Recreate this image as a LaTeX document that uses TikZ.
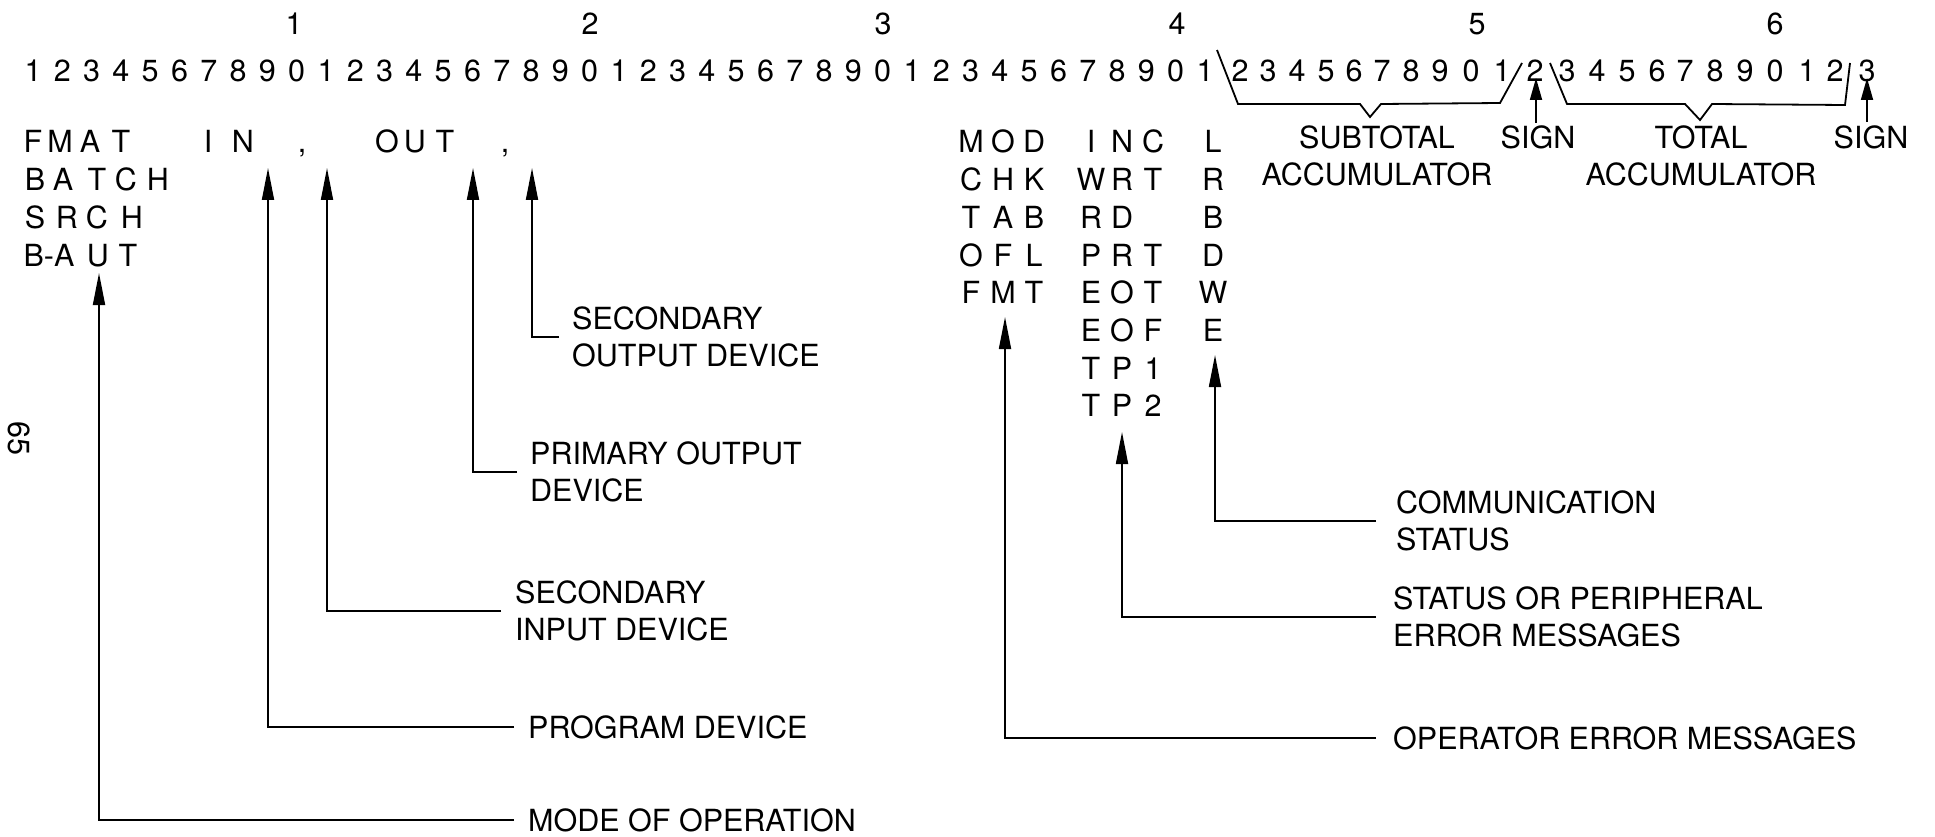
\documentclass[tikz,border=0pt]{standalone}
\usepackage{fontspec}
\setmainfont{TeX Gyre Heros}
\usetikzlibrary{arrows.meta}
\newcommand\ltr[4]{\node[txt] (#1) at (#2,{153+37.7*(#3-1)}) {#4};}
\begin{document}
\begin{tikzpicture}[x=1pt,y=-1pt,
  txt/.style={font=\fontsize{30.5}{37}\selectfont, inner sep=0pt, anchor=base},
  lbl/.style={font=\fontsize{30.5}{37}\selectfont, inner sep=0pt, anchor=west, align=left},
  lblc/.style={font=\fontsize{30.5}{37}\selectfont, inner sep=0pt, align=center},
  conn/.style={line width=1.8pt, line join=miter},
  arr/.style={line width=1.8pt, -{Triangle[length=32pt,width=12pt]}},
  sarr/.style={line width=1.8pt, -{Triangle[length=22pt,width=12pt]}}]
\useasboundingbox (0,0) rectangle (1935,837);
% ruler: tens
\foreach \t/\x in {1/294,2/590,3/883,4/1177,5/1477,6/1775}
  \node[txt] (ten\t) at (\x,35) {\t};
% ruler: units 1..41
\foreach \n in {1,...,41}{
  \pgfmathtruncatemacro\d{mod(\n,10)}
  \node[txt] (u\n) at ({33+(\n-1)*29.3},82) {\d};
}
\foreach \n/\x in {42/1240,43/1268,44/1297,45/1326,46/1354,47/1382,48/1411,49/1440,50/1471,51/1502,
  52/1535,53/1567,54/1597,55/1627,56/1657,57/1685,58/1715,59/1745,60/1775,61/1807,62/1835,63/1867}{
  \pgfmathtruncatemacro\d{mod(\n,10)}
  \node[txt] (u\n) at (\x,82) {\d};
}
% left block
\ltr{a1}{33}{1}{F}\ltr{a2}{60}{1}{M}\ltr{a3}{90}{1}{A}\ltr{a4}{121}{1}{T}
\ltr{a5}{208}{1}{I}\ltr{a6}{243}{1}{N}\ltr{a7}{302}{1}{,}
\ltr{a8}{387}{1}{O}\ltr{a9}{415}{1}{U}\ltr{a10}{445}{1}{T}\ltr{a11}{505}{1}{,}
\ltr{b1}{35}{2}{B}\ltr{b2}{63}{2}{A}\ltr{b3}{97}{2}{T}\ltr{b4}{126}{2}{C}\ltr{b5}{158}{2}{H}
\ltr{c1}{35}{3}{S}\ltr{c2}{67}{3}{R}\ltr{c3}{97}{3}{C}\ltr{c4}{132}{3}{H}
\ltr{d1}{49}{4}{B-A}\ltr{d2}{98}{4}{U}\ltr{d3}{128}{4}{T}
% middle block
\foreach \r/\p/\q/\s in {1/M/O/D,2/C/H/K,3/T/A/B,4/O/F/L,5/F/M/T}{
  \ltr{m\r a}{971}{\r}{\p}\ltr{m\r b}{1003}{\r}{\q}\ltr{m\r c}{1034}{\r}{\s}}
\foreach \r/\p/\q/\s in {1/I/N/C,2/W/R/T,3/R/D/{},4/P/R/T,5/E/O/T,6/E/O/F,7/T/P/1,8/T/P/2}{
  \ltr{n\r a}{1091}{\r}{\p}\ltr{n\r b}{1122}{\r}{\q}\ltr{n\r c}{1153}{\r}{\s}}
\foreach \r/\p in {1/L,2/R,3/B,4/D,5/W,6/E}{
  \ltr{l\r}{1213}{\r}{\p}}
% accumulator labels
\node[lblc] (sub) at (1377,155.5) {SUBTOTAL\\ACCUMULATOR};
\node[lblc] (tot) at (1701,155.5) {TOTAL\\ACCUMULATOR};
\node[lblc] (sg1) at (1538,137) {SIGN};
\node[lblc] (sg2) at (1871,137) {SIGN};
% brackets
\draw[conn] (1217,50) -- (1238,104) -- (1360,104) -- (1370,117) -- (1381,104) -- (1500,103) -- (1522,63);
\draw[conn] (1550,63) -- (1567,104) -- (1685,104) -- (1700,120) -- (1712,104) -- (1845,105) -- (1850,63);
\coordinate (s1t) at (1536,78);
\coordinate (s2t) at (1867,78);
\draw[sarr] (1536,123) -- (s1t);
\draw[sarr] (1867,122) -- (s2t);
% page number
\node[txt, anchor=center, rotate=-90] (pg) at (19,438) {65};
% labels
\node[lbl] (lmode) at (528,820) {MODE OF OPERATION};
\node[lbl] (lprog) at (528,727) {PROGRAM DEVICE};
\node[lbl] (lsin)  at (515,611) {SECONDARY\\INPUT DEVICE};
\node[lbl] (lpout) at (530,472) {PRIMARY OUTPUT\\DEVICE};
\node[lbl] (lsout) at (572,337) {SECONDARY\\OUTPUT DEVICE};
\node[lbl] (lop)   at (1393,738) {OPERATOR ERROR MESSAGES};
\node[lbl] (lstat) at (1393,617) {STATUS OR PERIPHERAL\\ERROR MESSAGES};
\node[lbl] (lcom)  at (1396,521) {COMMUNICATION\\STATUS};
% arrow tips
\coordinate (tmode) at (99,273);
\coordinate (tprog) at (268,168);
\coordinate (tsin)  at (327,168);
\coordinate (tpout) at (473,168);
\coordinate (tsout) at (532,168);
\coordinate (top)   at (1005,317);
\coordinate (tstat) at (1122,432);
\coordinate (tcom)  at (1215,355);
% connectors
\draw[arr] ([xshift=-14pt]lmode.west) -| (tmode);
\draw[arr] ([xshift=-14pt]lprog.west) -| (tprog);
\draw[arr] ([xshift=-14pt]lsin.west) -| (tsin);
\draw[arr] ([xshift=-13pt]lpout.west) -| (tpout);
\draw[arr] ([xshift=-13pt]lsout.west) -| (tsout);
\draw[arr] ([xshift=-17pt]lop.west) -| (top);
\draw[arr] ([xshift=-17pt]lstat.west) -| (tstat);
\draw[arr] ([xshift=-20pt]lcom.west) -| (tcom);
\end{tikzpicture}
\end{document}
